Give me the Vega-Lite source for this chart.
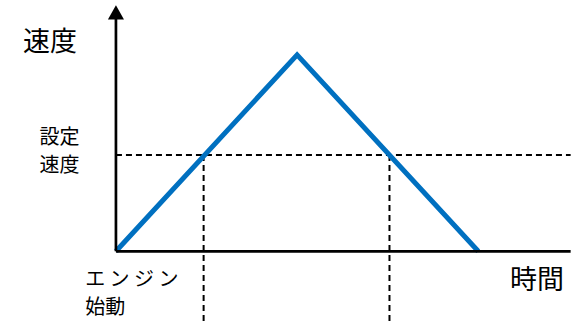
{
  "$schema": "https://vega.github.io/schema/vega-lite/v6.json",
  "width": 572,
  "height": 324,
  "autosize": {"type": "fit", "contains": "padding"},
  "padding": 0,
  "background": "white",
  "config": {"view": {"stroke": null}},
  "datasets": {
    "curve": [
      {"x": 0, "y": 0},
      {"x": 5, "y": 100},
      {"x": 10, "y": 0}
    ],
    "axes": [
      {"x": 0, "y": 0, "x2": 12.55, "y2": 0},
      {"x": 0, "y": 0, "x2": 0, "y2": 118.5}
    ],
    "guides": [
      {"x": 0, "y": 49, "x2": 12.55, "y2": 49},
      {"x": 2.42, "y": 49, "x2": 2.42, "y2": -36.4},
      {"x": 7.55, "y": 49, "x2": 7.55, "y2": -36.4}
    ],
    "arrow": [
      {"x": 0, "y": 121.6}
    ],
    "bigLabels": [
      {"x": -1.818, "y": 106.1, "label": "速度"},
      {"x": 11.625, "y": -15.0, "label": "時間"}
    ],
    "smallLabels": [
      {"x": -1.556, "y": 57.8, "label": "設定"},
      {"x": -1.556, "y": 43.5, "label": "速度"}
    ],
    "leftLabels": [
      {"x": -0.85, "y": -14.7, "label": "エ ン ジ ン"},
      {"x": -0.85, "y": -29.0, "label": "始動"}
    ]
  },
  "encoding": {
    "x": {"field": "x", "type": "quantitative", "scale": {"domain": [-3.2, 12.56], "nice": false, "zero": false}, "axis": null},
    "y": {"field": "y", "type": "quantitative", "scale": {"domain": [-36.5, 127.9], "nice": false, "zero": false}, "axis": null}
  },
  "layer": [
    {
      "data": {"name": "guides"},
      "mark": {"type": "rule", "color": "black", "strokeWidth": 2, "strokeDash": [6, 4]},
      "encoding": {"x2": {"field": "x2"}, "y2": {"field": "y2"}}
    },
    {
      "data": {"name": "curve"},
      "mark": {"type": "line", "color": "#0070C0", "strokeWidth": 5, "strokeCap": "butt", "strokeJoin": "miter"},
      "encoding": {}
    },
    {
      "data": {"name": "axes"},
      "mark": {"type": "rule", "color": "black", "strokeWidth": 2.7},
      "encoding": {"x2": {"field": "x2"}, "y2": {"field": "y2"}}
    },
    {
      "data": {"name": "arrow"},
      "mark": {"type": "point", "shape": "M-1,0.9L0,-0.9L1,0.9Z", "size": 256, "filled": true, "color": "black", "opacity": 1, "strokeWidth": 0}
    },
    {
      "data": {"name": "bigLabels"},
      "mark": {"type": "text", "font": "Noto Sans CJK JP", "fontSize": 27, "align": "center", "baseline": "middle", "color": "black"},
      "encoding": {"text": {"field": "label"}}
    },
    {
      "data": {"name": "smallLabels"},
      "mark": {"type": "text", "font": "Noto Sans CJK JP", "fontSize": 20, "align": "center", "baseline": "middle", "color": "black"},
      "encoding": {"text": {"field": "label"}}
    },
    {
      "data": {"name": "leftLabels"},
      "mark": {"type": "text", "font": "Noto Sans CJK JP", "fontSize": 20, "align": "left", "baseline": "middle", "color": "black"},
      "encoding": {"text": {"field": "label"}}
    }
  ]
}
